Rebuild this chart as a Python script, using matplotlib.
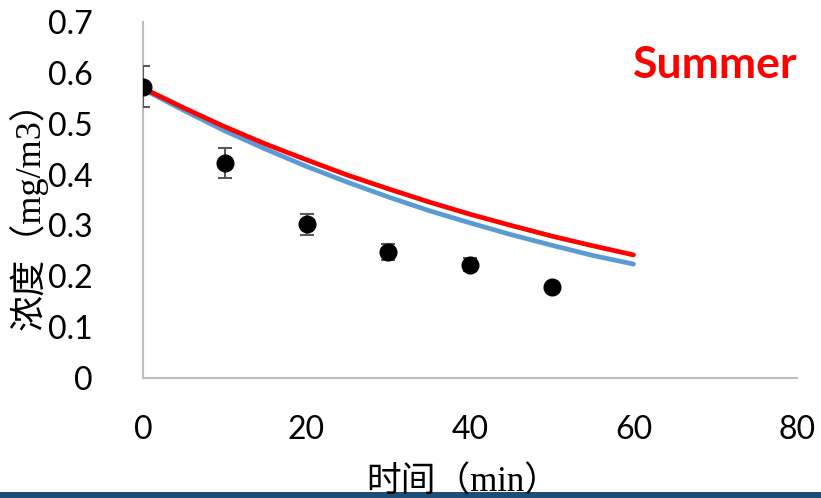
import matplotlib
matplotlib.use("Agg")
import matplotlib.pyplot as plt
from matplotlib.patches import Rectangle

# Measured concentrations (mean ± error) over time
time_obs = [0, 10, 20, 30, 40, 50]
conc_obs = [0.573, 0.423, 0.302, 0.248, 0.223, 0.178]
conc_err = [0.040, 0.030, 0.020, 0.016, 0.012, 0.006]

# Model curves
time_model = [0, 5, 10, 15, 20, 25, 30, 35, 40, 45, 50, 55, 60]
model_blue = [0.568, 0.526, 0.486, 0.450, 0.416, 0.385, 0.356, 0.329, 0.305, 0.282, 0.261, 0.241, 0.224]
model_red = [0.570, 0.531, 0.494, 0.460, 0.429, 0.399, 0.372, 0.346, 0.322, 0.300, 0.279, 0.260, 0.242]

x_ticks = [0, 20, 40, 60, 80]
y_ticks = [0, 0.1, 0.2, 0.3, 0.4, 0.5, 0.6, 0.7]
y_tick_labels = ["0", "0.1", "0.2", "0.3", "0.4", "0.5", "0.6", "0.7"]

fig = plt.figure(figsize=(8.21, 4.98), dpi=100)
ax = fig.add_axes([0.1742, 0.2410, 0.7966, 0.7148])

ax.plot(time_model, model_blue, color="#5B9BD5", lw=3.4, solid_capstyle="round", zorder=3)
ax.plot(time_model, model_red, color="#FF0000", lw=3.4, solid_capstyle="round", zorder=4)
ax.errorbar(time_obs, conc_obs, yerr=conc_err, fmt="o", color="black", ms=12,
            ecolor="#595959", elinewidth=1.5, capsize=5, capthick=1.5, zorder=5)

ax.set_xlim(0, 80)
ax.set_ylim(0, 0.7)
ax.set_xticks(x_ticks)
ax.set_yticks(y_ticks)
ax.set_yticklabels(y_tick_labels)
for lab in ax.get_xticklabels() + ax.get_yticklabels():
    lab.set_fontfamily("Lato")
    lab.set_fontsize(23)
ax.tick_params(axis="both", length=0)
ax.tick_params(axis="x", pad=27)
ax.tick_params(axis="y", pad=36)

for s in ["top", "right"]:
    ax.spines[s].set_visible(False)
for s in ["left", "bottom"]:
    ax.spines[s].set_color("#BFBFBF")
    ax.spines[s].set_linewidth(1.5)

label_family = ["Liberation Serif", "Noto Sans CJK SC"]
fig.text(0.035, 0.585, "浓度（mg/m3）", rotation=90, ha="center", va="center",
         family=label_family, fontsize=26)
fig.text(0.563, 0.03, "时间（min）", ha="center", va="center",
         family=label_family, fontsize=25, zorder=10)

ax.text(1.0, 0.88, "Summer", transform=ax.transAxes, ha="right", va="center",
        color="#FF0000", fontsize=32, fontweight="bold", family="Lato")

# slide footer band
fig.patches.append(Rectangle((0, 0), 1, 6 / 498, transform=fig.transFigure,
                             facecolor="#1D4E74", edgecolor="none", zorder=1))

fig.savefig("out.png", dpi=100)
